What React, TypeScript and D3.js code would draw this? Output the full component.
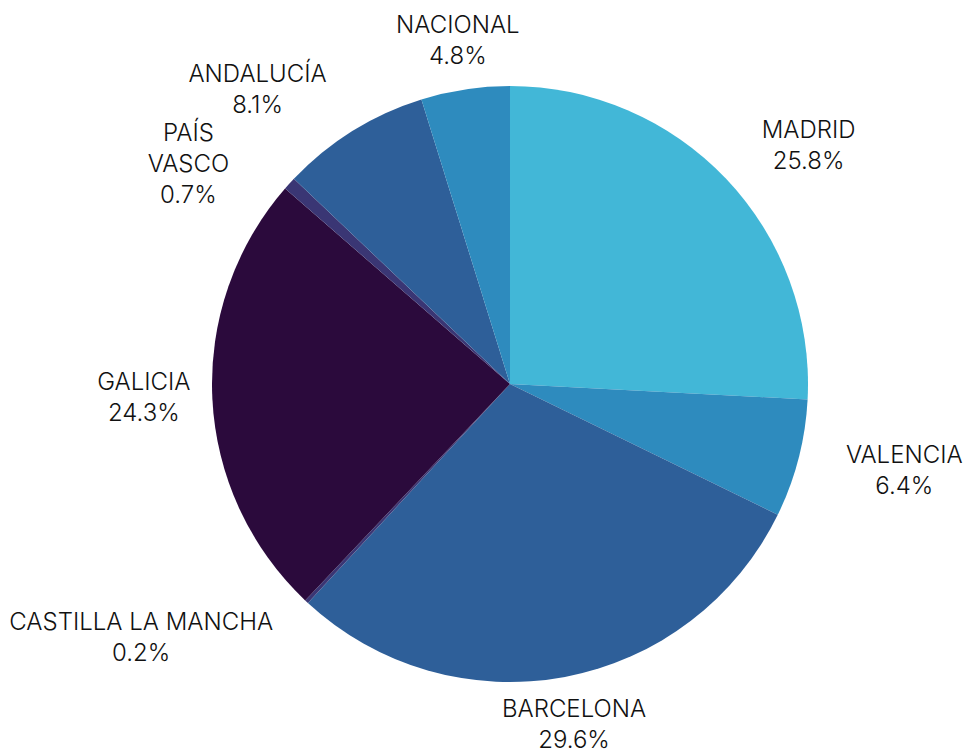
import React from "react";
import * as d3 from "d3";

const categories = ["MADRID", "VALENCIA", "BARCELONA", "CASTILLA LA MANCHA", "GALICIA", "PAÍS VASCO", "ANDALUCÍA", "NACIONAL"];
const values = [25.8, 6.4, 29.6, 0.2, 24.3, 0.7, 8.1, 4.8];
const colors = ["#42b7d7", "#2e8bbe", "#2e5f99", "#3a3674", "#2b0a3c", "#3a3674", "#2e5f99", "#2e8bbe"];
// label line breaks
const labelLines: Record<string, string[]> = {
  "PAÍS VASCO": ["PAÍS", "VASCO"],
};
// small label nudges to avoid overlaps
const labelNudge: Record<string, [number, number]> = {
  "GALICIA": [27, -3],
  "PAÍS VASCO": [-24, 13],
};

const W = 969;
const H = 754;
const cx = 510;
const cy = 384;
const R = 298;
const labelR = 347;
const lineH = 31;

export default function App() {
  const data = categories.map((c, i) => ({ name: c, value: values[i], color: colors[i] }));
  const pie = d3.pie<any>().sort(null).value((d: any) => d.value);
  const arcs = pie(data);
  const arc = d3.arc<any>().innerRadius(0).outerRadius(R);
  const labelArc = d3.arc<any>().innerRadius(labelR).outerRadius(labelR);

  return (
    <svg width={W} height={H} style={{ position: "absolute", left: 0, top: 0 }}>
      <g transform={`translate(${cx},${cy})`}>
        {arcs.map((a, i) => (
          <path key={i} d={arc(a) as string} fill={a.data.color} />
        ))}
        {arcs.map((a, i) => {
          const [lx0, ly0] = labelArc.centroid(a);
          const mid = (a.startAngle + a.endAngle) / 2;
          const s = Math.sin(mid);
          const anchor = Math.abs(s) < 0.3 ? "middle" : s > 0 ? "start" : "end";
          const nudge = labelNudge[a.data.name] || [0, 0];
          const lx = lx0 + nudge[0];
          const ly = ly0 + nudge[1];
          const lines = [...(labelLines[a.data.name] || [a.data.name]), `${a.data.value.toFixed(1)}%`];
          return <LabelBlock key={i} x={lx} y={ly} anchor={anchor} lines={lines} />;
        })}
      </g>
    </svg>
  );
}

function LabelBlock({ x, y, anchor, lines }: { x: number; y: number; anchor: string; lines: string[] }) {
  const ref = React.useRef<SVGGElement>(null);
  const [w, setW] = React.useState(0);
  React.useLayoutEffect(() => {
    if (ref.current) {
      let mx = 0;
      ref.current.querySelectorAll("text").forEach((t) => {
        mx = Math.max(mx, (t as SVGTextElement).getComputedTextLength());
      });
      setW(mx);
    }
  }, []);
  const centerX = anchor === "middle" ? x : anchor === "start" ? x + w / 2 : x - w / 2;
  const n = lines.length;
  return (
    <g ref={ref}>
      {lines.map((ln, i) => (
        <text
          key={i}
          x={centerX}
          y={y + (i - (n - 1) / 2) * lineH}
          dy="0.33em"
          textAnchor="middle"
          fontFamily="Inter, 'Noto Sans', sans-serif"
          fontSize={24}
          fontWeight={300}
          fill="#111"
        >
          {ln}
        </text>
      ))}
    </g>
  );
}
